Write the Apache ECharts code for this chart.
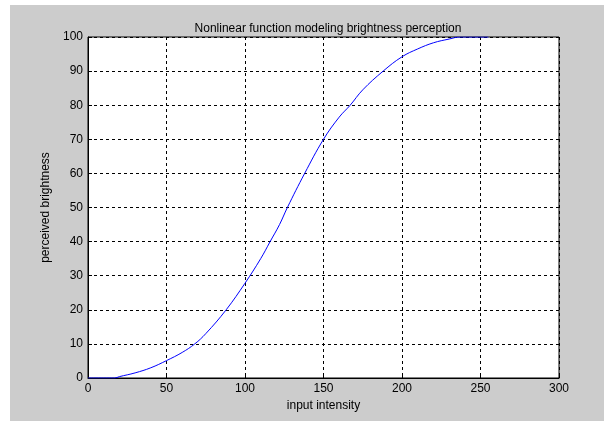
<!DOCTYPE html>
<html>
<head>
<meta charset="utf-8">
<script src="https://cdn.jsdelivr.net/npm/echarts@6/dist/echarts.min.js"></script>
<style>
html,body{margin:0;padding:0;background:#ffffff;}
#chart{width:604px;height:421px;}
</style>
</head>
<body>
<div id="chart"></div>
<script>
// Data
var inputIntensity = [0, 10, 17, 20, 30, 40, 50, 60, 68, 75, 88, 100, 110, 116, 122, 127, 138, 150, 160, 167, 175, 188, 200, 210, 220, 230, 237, 245, 255];
var perceived      = [0, 0, 0, 0.4, 1.5, 3.0, 5.1, 7.5, 10, 13, 20, 27.8, 35, 40, 45, 50, 60, 70, 76.5, 80, 84.5, 90, 94.2, 96.5, 98.3, 99.4, 100, 100, 100];
var xTicks = [0, 50, 100, 150, 200, 250, 300];
var yTicks = [0, 10, 20, 30, 40, 50, 60, 70, 80, 90, 100];

var points = inputIntensity.map(function (x, i) { return [x, perceived[i]]; });
var font = '"Liberation Sans", Arial, sans-serif';

var chart = echarts.init(document.getElementById('chart'), null, {renderer: 'canvas'});
chart.setOption({
  animation: false,
  backgroundColor: 'transparent',
  graphic: [{
    type: 'rect', left: 10, top: 5, z: -10,
    shape: {width: 594, height: 416},
    style: {fill: '#cccccc'}
  }],
  title: {
    text: 'Nonlinear function modeling brightness perception',
    left: 323, top: 18, textAlign: 'center',
    textStyle: {fontFamily: font, fontSize: 12, fontWeight: 'normal', color: '#000'}
  },
  grid: {
    left: 88, top: 37, right: 45, bottom: 43,
    show: true, backgroundColor: '#ffffff', borderColor: '#000000', borderWidth: 1
  },
  xAxis: {
    type: 'value', min: xTicks[0], max: xTicks[xTicks.length - 1], interval: 50,
    name: 'input intensity', nameLocation: 'middle', nameGap: 22,
    nameTextStyle: {fontFamily: font, fontSize: 12, color: '#000'},
    axisLine: {show: true, lineStyle: {color: '#000'}},
    axisTick: {show: true, inside: true, length: 4, lineStyle: {color: '#000'}},
    axisLabel: {fontFamily: font, fontSize: 12, color: '#000', margin: 5},
    splitLine: {show: true, lineStyle: {color: '#000', type: [3, 3], width: 1}}
  },
  yAxis: {
    type: 'value', min: yTicks[0], max: yTicks[yTicks.length - 1], interval: 10,
    name: 'perceived brightness', nameLocation: 'middle', nameGap: 32, nameRotate: 90,
    nameTextStyle: {fontFamily: font, fontSize: 12, color: '#000'},
    axisLine: {show: true, lineStyle: {color: '#000'}},
    axisTick: {show: true, inside: true, length: 4, lineStyle: {color: '#000'}},
    axisLabel: {fontFamily: font, fontSize: 12, color: '#000', margin: 5},
    splitLine: {show: true, lineStyle: {color: '#000', type: [3, 3], width: 1}}
  },
  series: [{
    type: 'line', data: points, smooth: 0.4, showSymbol: false,
    lineStyle: {color: '#0000ff', width: 1}, clip: true
  }]
});
</script>
</body>
</html>
